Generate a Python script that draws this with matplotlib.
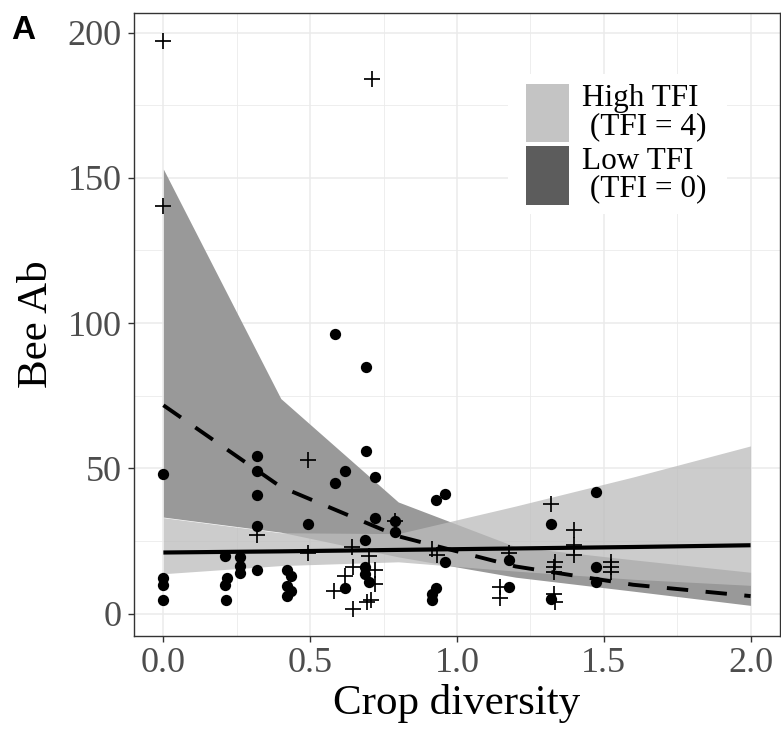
import numpy as np
import matplotlib
matplotlib.use("Agg")
import matplotlib.pyplot as plt
from matplotlib.patches import Rectangle

plt.rcParams["font.family"] = ["Liberation Serif", "DejaVu Serif"]

# Gözlemler: dolu daireler
circ_x = [0, 0, 0, 0,
          0.211, 0.217, 0.211, 0.214,
          0.26, 0.26, 0.26,
          0.319, 0.319, 0.319, 0.319, 0.319,
          0.421, 0.435, 0.421, 0.435, 0.421,
          0.492,
          0.584, 0.584, 0.618, 0.618,
          0.69, 0.69, 0.688, 0.688, 0.688, 0.70,
          0.722, 0.722,
          0.788, 0.788,
          0.929, 0.96, 0.96,
          0.915, 0.93, 0.915,
          1.177, 1.176,
          1.319, 1.319,
          1.474, 1.473, 1.473]
circ_y = [48, 12.2, 9.9, 4.8,
          19.7, 12.2, 9.9, 4.8,
          19.4, 16.5, 13.9,
          54.1, 49, 40.9, 30, 15.1,
          15.1, 12.8, 9.3, 7.9, 5.9,
          30.9,
          96.1, 45, 49, 8.9,
          84.9, 56, 25.2, 16, 13.7, 10.8,
          47, 33,
          32, 28,
          39, 41, 17.7,
          6.8, 8.9, 4.8,
          18.4, 9.2,
          30.9, 5.1,
          41.8, 16.1, 10.9]

# Gözlemler: artı işaretleri
plus_x = [0, 0, 0.712,
          0.492, 0.319, 0.492,
          0.643, 0.70, 0.646, 0.62, 0.722, 0.722, 0.58, 0.646, 0.694, 0.708,
          0.788, 0.915, 0.932,
          1.146, 1.146, 1.177,
          1.319, 1.40, 1.40, 1.40, 1.333, 1.33, 1.33, 1.33, 1.333,
          1.526, 1.526, 1.526]
plus_y = [197.2, 140.3, 184.1,
          52.8, 26.9, 20.9,
          22.9, 19.7, 16, 12.8, 15.1, 10, 7.9, 1.6, 3.9, 4.5,
          32, 22.2, 20.3,
          9.2, 5.2, 20.8,
          37.8, 28.7, 23.5, 20.1, 17.8, 16, 14.3, 6.8, 3.9,
          17.8, 16.1, 14.4]

# Model tahminleri ve güven bantları
fit_x = [0.0, 0.4, 0.8, 1.2, 1.6, 2.0]
high_fit = [21.0, 21.4, 21.9, 22.4, 22.9, 23.5]
high_lo = [13.7, 16.5, 17.8, 14.6, 11.8, 9.7]
high_up = [33.0, 27.8, 27.5, 37.0, 47.0, 57.7]
low_fit = [71.7, 43.6, 26.6, 16.2, 9.9, 6.0]
low_lo = [33.2, 28.0, 19.5, 12.5, 7.7, 2.8]
low_up = [153.0, 74.0, 38.4, 23.0, 18.5, 14.2]

fig = plt.figure(figsize=(7.81, 7.33), dpi=100)
ax = fig.add_axes([0.1716, 0.1323, 0.827, 0.85])

ax.set_xlim(-0.1, 2.1)
ax.set_ylim(-7.75, 206.75)

# grid
ax.set_xticks([0, 0.5, 1.0, 1.5, 2.0])
ax.set_xticks([0.25, 0.75, 1.25, 1.75], minor=True)
ax.set_yticks([0, 50, 100, 150, 200])
ax.set_yticks([25, 75, 125, 175], minor=True)
ax.set_xticklabels([f"{v:.1f}" for v in [0, 0.5, 1.0, 1.5, 2.0]])
ax.grid(which="major", color="#ebebeb", linewidth=1.1, zorder=0)
ax.grid(which="minor", color="#ebebeb", linewidth=0.6, zorder=0)
ax.set_axisbelow(True)

ax.fill_between(fit_x, low_lo, low_up, color="#999999", linewidth=0, zorder=1)
ax.fill_between(fit_x, high_lo, high_up, color="#bcbcbc", alpha=0.76,
                linewidth=0, zorder=2)

ax.plot(fit_x, high_fit, color="black", linewidth=3.0, zorder=3,
        solid_capstyle="butt")
ax.plot(fit_x, low_fit, color="black", linewidth=2.8, zorder=3,
        dashes=(5.5, 4.5), dash_capstyle="butt")

ax.scatter(circ_x, circ_y, s=66, color="black", marker="o", linewidths=0,
           zorder=4)
ax.scatter(plus_x, plus_y, s=130, color="black", marker="+", linewidths=1.25,
           zorder=4)

for side in ax.spines.values():
    side.set_color("#333333")
    side.set_linewidth(1.0)
ax.tick_params(which="major", length=4, width=1.0, color="#333333",
               labelcolor="#4d4d4d", labelsize=26)
ax.tick_params(axis="y", pad=5)
ax.tick_params(axis="x", pad=4)
ax.tick_params(which="minor", length=0)

ax.set_xlabel("Crop diversity", fontsize=31, labelpad=3)
ax.set_ylabel("Bee Ab", fontsize=31, labelpad=8)

# lejant
ax.add_patch(Rectangle((0.579, 0.678), 0.339, 0.224, transform=ax.transAxes,
                       facecolor="white", edgecolor="none", zorder=5))
ax.add_patch(Rectangle((0.607, 0.793), 0.066, 0.093, transform=ax.transAxes,
                       facecolor="#c4c4c4", edgecolor="none", zorder=6))
ax.add_patch(Rectangle((0.607, 0.692), 0.066, 0.094, transform=ax.transAxes,
                       facecolor="#5c5c5c", edgecolor="none", zorder=6))
ax.text(0.694, 0.840, "High TFI\n (TFI = 4)", transform=ax.transAxes,
        fontsize=22.5, va="center", ha="left", linespacing=0.95, zorder=7)
ax.text(0.694, 0.740, "Low TFI\n (TFI = 0)", transform=ax.transAxes,
        fontsize=22.5, va="center", ha="left", linespacing=0.95, zorder=7)

fig.text(0.014, 0.979, "A", fontsize=24, fontweight="bold",
         family="Liberation Sans", va="top", ha="left")

fig.savefig("out.png", dpi=100)
